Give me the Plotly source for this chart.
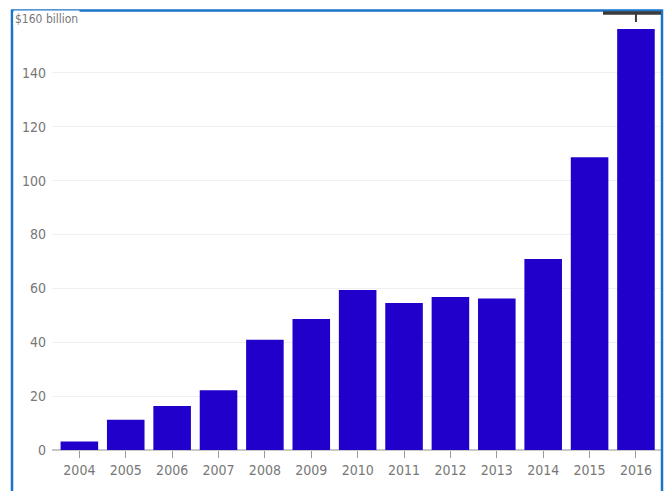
import plotly.graph_objects as go

# Annual totals, in billions of dollars
years = ["2004", "2005", "2006", "2007", "2008", "2009", "2010",
         "2011", "2012", "2013", "2014", "2015", "2016"]
values = [3.2, 11.2, 16.3, 22.2, 40.9, 48.6, 59.4,
          54.6, 56.8, 56.2, 70.9, 108.7, 156.3]

y_ticks = [0, 20, 40, 60, 80, 100, 120, 140, 160]
y_labels = ["0", "20", "40", "60", "80", "100", "120", "140", ""]
top_label = "$160 billion"

FONT = "Liberation Sans Narrow, Arial Narrow, DejaVu Sans Condensed, Liberation Sans, sans-serif"
BAR = "#2200cc"
FRAME = "#1a74cc"

# plot-area geometry in pixels (used to place frame in paper units)
W, H = 667, 491
ML, MR, MT, MB = 52, 6, 19, 41
PW, PH = W - ML - MR, H - MT - MB


def px_x(px):
    return (px - ML) / PW


def px_y(py):
    return (H - MB - py) / PH


fig = go.Figure(go.Bar(
    x=years, y=values,
    marker=dict(color=BAR, line=dict(width=0)),
    hoverinfo="skip",
))

fig.update_layout(
    width=W, height=H,
    margin=dict(l=ML, r=MR, t=MT, b=MB, pad=0),
    paper_bgcolor="white", plot_bgcolor="white",
    bargap=0.19,
    showlegend=False,
    font=dict(family=FONT, size=14, color="#777777"),
)

fig.update_xaxes(
    type="category",
    range=[-0.59, 12.54],
    showgrid=False, showline=False, zeroline=False,
    ticks="outside", ticklen=7, tickwidth=1, tickcolor="#999999",
    tickfont=dict(family=FONT, size=14, color="#777777"),
)

fig.update_yaxes(
    range=[0, 160],
    tickvals=y_ticks, ticktext=y_labels,
    showgrid=True, gridcolor="#f0f0f0", gridwidth=1,
    zeroline=True, zerolinecolor="#c8c8c8", zerolinewidth=2,
    showline=False, ticks="",
    ticklabelstandoff=5,
    tickfont=dict(family=FONT, size=14, color="#777777"),
)

# top axis caption sitting on the 160 gridline
fig.add_annotation(
    xref="paper", yref="y", x=px_x(13), y=160,
    xanchor="left", yanchor="middle",
    text=top_label, showarrow=False,
    bgcolor="white", borderpad=1,
    font=dict(family=FONT, size=12, color="#777777"),
)

# blue frame around the chart
fig.add_shape(
    type="rect", xref="paper", yref="paper",
    x0=px_x(12), x1=px_x(662), y0=px_y(520), y1=px_y(10.5),
    line=dict(color=FRAME, width=2.5), fillcolor="rgba(0,0,0,0)",
    layer="above",
)

# dark pointer bar above the last column
fig.add_shape(
    type="line", xref="paper", yref="paper",
    x0=px_x(603), x1=px_x(661), y0=px_y(13), y1=px_y(13),
    line=dict(color="#3a3a3a", width=3.5), layer="above",
)
fig.add_shape(
    type="line", xref="x", yref="paper",
    x0=12, x1=12, y0=px_y(14), y1=px_y(22),
    line=dict(color="#3a3a3a", width=2), layer="above",
)

fig.write_html("out.html")
